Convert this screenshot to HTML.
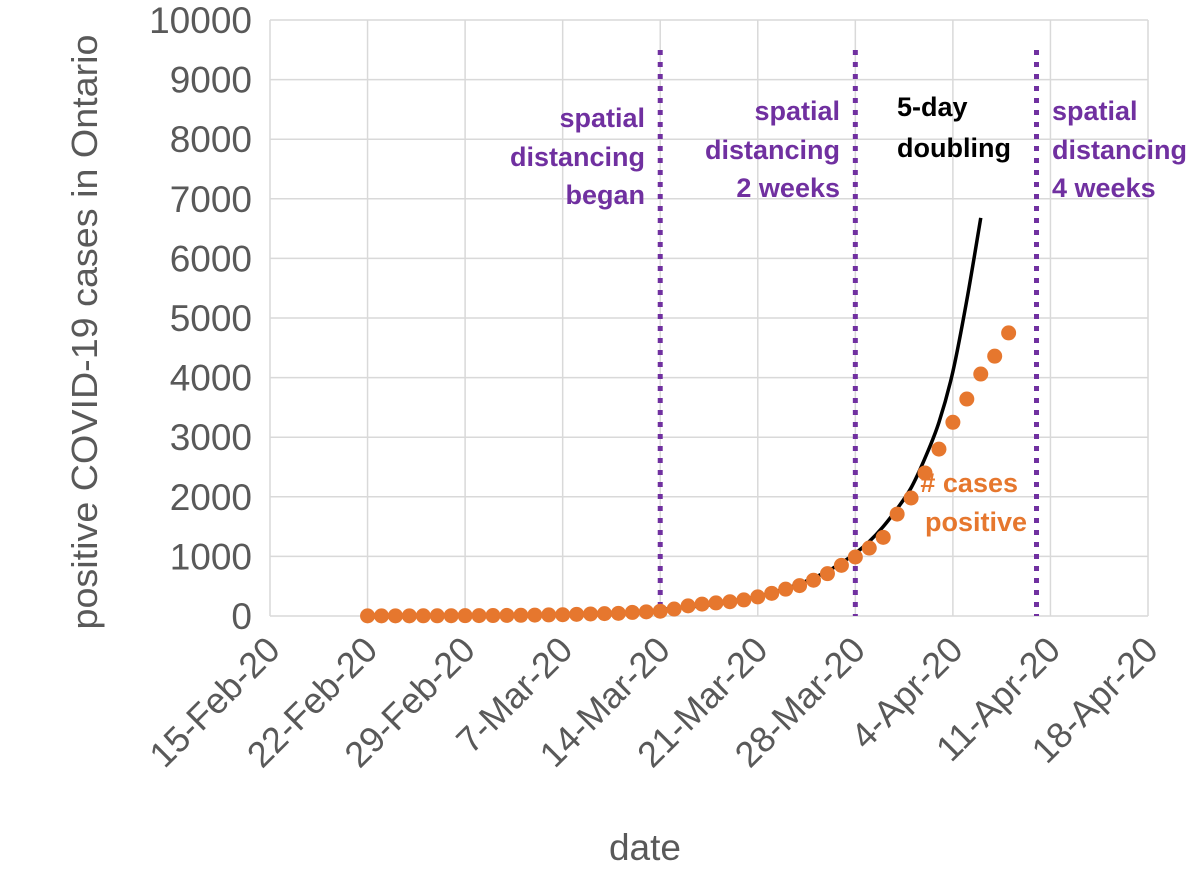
<!DOCTYPE html>
<html><head><meta charset="utf-8"><style>
html,body{margin:0;padding:0;background:#fff;}
svg{display:block;font-family:"Liberation Sans",sans-serif;}
</style></head><body>
<svg id="chart" width="1200" height="874" viewBox="0 0 1200 874">
<g id="grid"></g>
<g id="vlines"></g>
<g id="curve"></g>
<g id="dots"></g>
<g id="labels"></g>
<text x="97" y="332" transform="rotate(-90 97 332)" text-anchor="middle" font-size="36" fill="#595959" textLength="595" lengthAdjust="spacingAndGlyphs">positive COVID-19 cases in Ontario</text>
<text x="645" y="860" text-anchor="middle" font-size="37" fill="#595959">date</text>
<g font-weight="bold" font-size="27" fill="#7030a0">
<text text-anchor="end"><tspan x="645" y="127">spatial</tspan><tspan x="645" y="166">distancing</tspan><tspan x="645" y="204">began</tspan></text>
<text text-anchor="end"><tspan x="840" y="120">spatial</tspan><tspan x="840" y="159">distancing</tspan><tspan x="840" y="197">2 weeks</tspan></text>
<text><tspan x="1052" y="120">spatial</tspan><tspan x="1052" y="159">distancing</tspan><tspan x="1052" y="197">4 weeks</tspan></text>
</g>
<text font-weight="bold" font-size="27" fill="#000"><tspan x="897" y="116">5-day</tspan><tspan x="897" y="157">doubling</tspan></text>
<text font-weight="bold" font-size="27" fill="#e6772e" text-anchor="end"><tspan x="1018" y="492">#&#160;cases</tspan><tspan x="1027" y="531">positive</tspan></text>
</svg>
<script>
// days since 15-Feb-20
const yTicks = [0,1000,2000,3000,4000,5000,6000,7000,8000,9000,10000];
const xTickDays = [0,7,14,21,28,35,42,49,56,63];
const xTickLabels = ["15-Feb-20","22-Feb-20","29-Feb-20","7-Mar-20","14-Mar-20","21-Mar-20","28-Mar-20","4-Apr-20","11-Apr-20","18-Apr-20"];
const caseStartDay = 7;
const caseValues = [2,2,3,3,4,4,5,6,7,8,10,12,15,18,22,28,34,40,45,60,70,80,117,170,200,220,240,270,320,380,450,510,600,710,850,990,1140,1320,1710,1980,2400,2800,3250,3640,4060,4360,4750];
const curveStartDay = 28;
const curveValues = [110,130,150,175,200,235,280,330,390,460,540,640,750,890,1050,1250,1500,1800,2150,2650,3250,4100,5300,6680];
const markerDays = [28,42,55];

const NS="http://www.w3.org/2000/svg";
const X0=270, X1=1148, Y0=616, Y1=20;
const xS=d=>X0+(X1-X0)*d/63;
const yS=v=>Y0-(Y0-Y1)*v/10000;
function el(tag,attrs,parent){const e=document.createElementNS(NS,tag);for(const k in attrs)e.setAttribute(k,attrs[k]);parent.appendChild(e);return e;}
const grid=document.getElementById('grid'), labels=document.getElementById('labels');
yTicks.forEach(v=>{
  const l=el('line',{x1:X0,x2:X1,y1:yS(v),y2:yS(v),stroke:'#d9d9d9','stroke-width':1.5},grid);
  
  
  const t=el('text',{x:252,y:yS(v)+13,'text-anchor':'end','font-size':37,fill:'#595959'},labels);
  t.textContent=v;
  
  
});
xTickDays.forEach((d,i)=>{
  const x=xS(d);
  const l=el('line',{x1:x,x2:x,y1:Y1,y2:Y0,stroke:'#d9d9d9','stroke-width':1.5},grid);
  
  
  const t=el('text',{x:x+12,y:652,'text-anchor':'end','font-size':36,fill:'#595959',transform:`rotate(-45 ${x+12} 652)`},labels);
  t.textContent=xTickLabels[i];
  
  
});
const vl=document.getElementById('vlines');
markerDays.forEach(d=>{
  const l=el('line',{x1:xS(d),x2:xS(d),y1:50,y2:Y0,stroke:'#7030a0','stroke-width':5,'stroke-dasharray':'5 7'},vl);
  
  
});
const pts=curveValues.map((v,i)=>[xS(curveStartDay+i),yS(v)]);
let dstr=`M${pts[0][0]},${pts[0][1]}`;
for(let i=0;i<pts.length-1;i++){
  const p0=pts[Math.max(0,i-1)],p1=pts[i],p2=pts[i+1],p3=pts[Math.min(pts.length-1,i+2)];
  dstr+=` C${p1[0]+(p2[0]-p0[0])/6},${p1[1]+(p2[1]-p0[1])/6} ${p2[0]-(p3[0]-p1[0])/6},${p2[1]-(p3[1]-p1[1])/6} ${p2[0]},${p2[1]}`;
}
const cp=el('path',{d:dstr,fill:'none',stroke:'#000','stroke-width':3.5},document.getElementById('curve'));


const dots=document.getElementById('dots');
caseValues.forEach((v,i)=>{
  const c=el('circle',{cx:xS(caseStartDay+i),cy:yS(v),r:7.5,fill:'#e6772e'},dots);
  
  
});
</script>
</body></html>
